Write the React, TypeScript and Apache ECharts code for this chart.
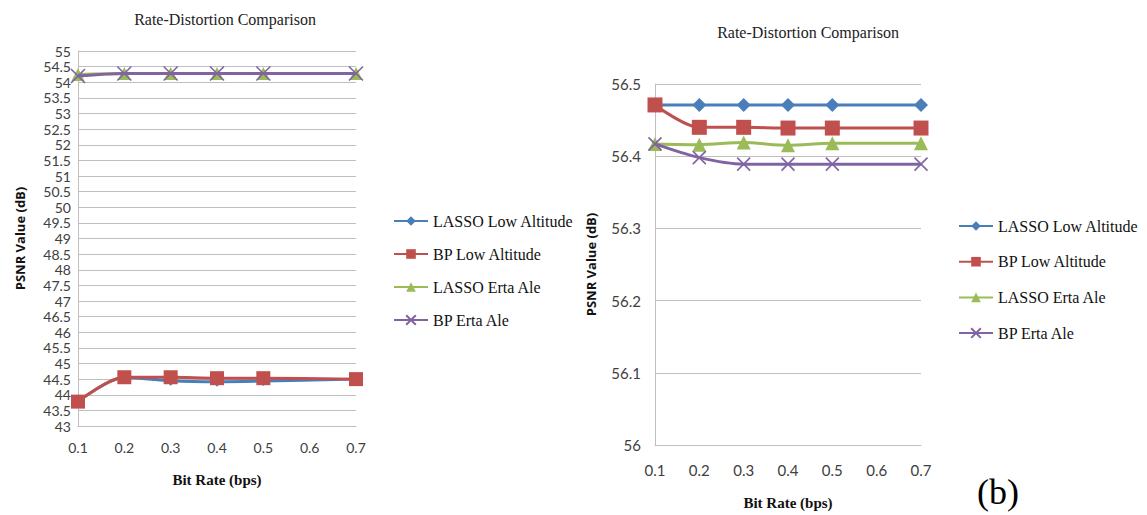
import React, { useEffect, useRef } from "react";
import * as echarts from "echarts";

const bitRates = [0.1, 0.2, 0.3, 0.4, 0.5, 0.7];
const seriesNames = ["LASSO Low Altitude", "BP Low Altitude", "LASSO Erta Ale", "BP Erta Ale"];

// Left panel values (PSNR dB)
const leftLassoLow = [43.78, 44.55, 44.45, 44.42, 44.44, 44.5];
const leftBpLow = [43.78, 44.56, 44.56, 44.53, 44.53, 44.5];
const leftLassoErta = [54.25, 54.28, 54.28, 54.28, 54.28, 54.28];
const leftBpErta = [54.2, 54.28, 54.28, 54.28, 54.28, 54.28];

// Right panel values (PSNR dB)
const rightLassoLow = [56.471, 56.471, 56.471, 56.471, 56.471, 56.471];
const rightBpLow = [56.471, 56.44, 56.44, 56.439, 56.439, 56.439];
const rightLassoErta = [56.417, 56.416, 56.419, 56.415, 56.418, 56.418];
const rightBpErta = [56.417, 56.398, 56.389, 56.389, 56.389, 56.389];

const colors = ["#4A7EBB", "#C0504D", "#9BBB59", "#8064A2"];
const symbols = ["diamond", "rect", "triangle", "path://M0 0L10 10M10 0L0 10"];

const pairs = (ys: number[]) => bitRates.map((x, i) => [x, ys[i]]);

export default function App() {
  const ref = useRef<HTMLDivElement>(null);
  useEffect(() => {
    if (!ref.current) return;
    const chart = echarts.init(ref.current, null, { renderer: "svg" });
    const gridColor = "#BFBFBF";
    const mkSeries = (data: number[][], idx: number, axis: number, size: number[]) => ({
      name: seriesNames[idx],
      type: "line",
      xAxisIndex: axis,
      yAxisIndex: axis,
      data,
      smooth: 0.3,
      symbol: symbols[idx],
      symbolSize: size[idx],
      lineStyle: { color: colors[idx], width: 3 },
      itemStyle:
        idx === 3
          ? { color: colors[idx], borderColor: colors[idx], borderWidth: 1.6 }
          : { color: colors[idx], borderWidth: 0 },
      z: idx === 3 ? 4 : idx === 2 ? 3 : idx === 1 ? 5 : 2,
    });
    const leftSizes = [10, 14, 13, 14];
    const rightSizes = [14, 15, 14, 13];
    const xAxisBase = (gridIndex: number, fs: number, margin: number, gap: number) => ({
      type: "value",
      gridIndex,
      min: 0.1,
      max: 0.7,
      interval: 0.1,
      axisLine: { show: true, lineStyle: { color: gridColor } },
      axisTick: { show: false },
      splitLine: { show: false },
      axisLabel: {
        color: "#404040",
        fontFamily: "Lato",
        fontSize: fs,
        margin,
        formatter: (v: number) => v.toFixed(1),
      },
      name: "Bit Rate (bps)",
      nameLocation: "middle",
      nameGap: gap,
      nameTextStyle: { fontFamily: "Liberation Serif", fontWeight: "bold", fontSize: 15, color: "#111" },
    });
    const legendBase = (left: number, top: number, gap: number, fs: number) => ({
      orient: "vertical",
      left,
      top,
      itemWidth: 34,
      itemHeight: 12,
      itemGap: gap,
      data: seriesNames,
      textStyle: { fontFamily: "Liberation Serif", fontSize: fs, color: "#111" },
    });
    chart.setOption({
      animation: false,
      backgroundColor: "#ffffff",
      title: [
        {
          text: "Rate-Distortion Comparison",
          left: 220,
          top: 6,
          textAlign: "center",
          textStyle: { fontFamily: "Liberation Serif", fontWeight: "normal", fontSize: 16, color: "#222" },
        },
        {
          text: "Rate-Distortion Comparison",
          left: 803,
          top: 19,
          textAlign: "center",
          textStyle: { fontFamily: "Liberation Serif", fontWeight: "normal", fontSize: 16, color: "#222" },
        },
      ],
      legend: [legendBase(388, 208, 17, 16), legendBase(953, 213, 19.7, 16)],
      graphic: [
        {
          type: "text",
          left: 977,
          top: 474,
          style: { text: "(b)", font: "36px 'Liberation Serif'", fill: "#000" },
        },
      ],
      grid: [
        { left: 78, top: 51, width: 278, height: 375 },
        { left: 655, top: 84, width: 266, height: 363 },
      ],
      xAxis: [xAxisBase(0, 14, 14, 46), xAxisBase(1, 15, 17, 50)],
      yAxis: [
        {
          type: "value",
          gridIndex: 0,
          min: 43,
          max: 55,
          interval: 0.5,
          axisLine: { show: true, lineStyle: { color: gridColor } },
          axisTick: { show: false },
          splitLine: { show: true, lineStyle: { color: gridColor, width: 1 } },
          axisLabel: { color: "#404040", fontFamily: "Lato", fontSize: 14, margin: 7 },
          name: "PSNR Value (dB)",
          nameLocation: "middle",
          nameGap: 52,
          nameRotate: 90,
          nameTextStyle: { fontFamily: "Open Sans", fontWeight: "bold", fontSize: 13, color: "#111" },
        },
        {
          type: "value",
          gridIndex: 1,
          min: 56,
          max: 56.5,
          interval: 0.1,
          axisLine: { show: true, lineStyle: { color: gridColor } },
          axisTick: { show: false },
          splitLine: { show: true, lineStyle: { color: gridColor, width: 1 } },
          axisLabel: { color: "#404040", fontFamily: "Lato", fontSize: 15, margin: 14 },
          name: "PSNR Value (dB)",
          nameLocation: "middle",
          nameGap: 58,
          nameRotate: 90,
          nameTextStyle: { fontFamily: "Open Sans", fontWeight: "bold", fontSize: 13, color: "#111" },
        },
      ],
      series: [
        mkSeries(pairs(leftLassoLow), 0, 0, leftSizes),
        mkSeries(pairs(leftBpLow), 1, 0, leftSizes),
        mkSeries(pairs(leftLassoErta), 2, 0, leftSizes),
        mkSeries(pairs(leftBpErta), 3, 0, leftSizes),
        mkSeries(pairs(rightLassoLow), 0, 1, rightSizes),
        mkSeries(pairs(rightBpLow), 1, 1, rightSizes),
        mkSeries(pairs(rightLassoErta), 2, 1, rightSizes),
        mkSeries(pairs(rightBpErta), 3, 1, rightSizes),
      ],
    });
    return () => chart.dispose();
  }, []);
  return (
    <div
      ref={ref}
      style={{ position: "fixed", left: 0, top: 0, width: 1147, height: 515, background: "#fff" }}
    />
  );
}
